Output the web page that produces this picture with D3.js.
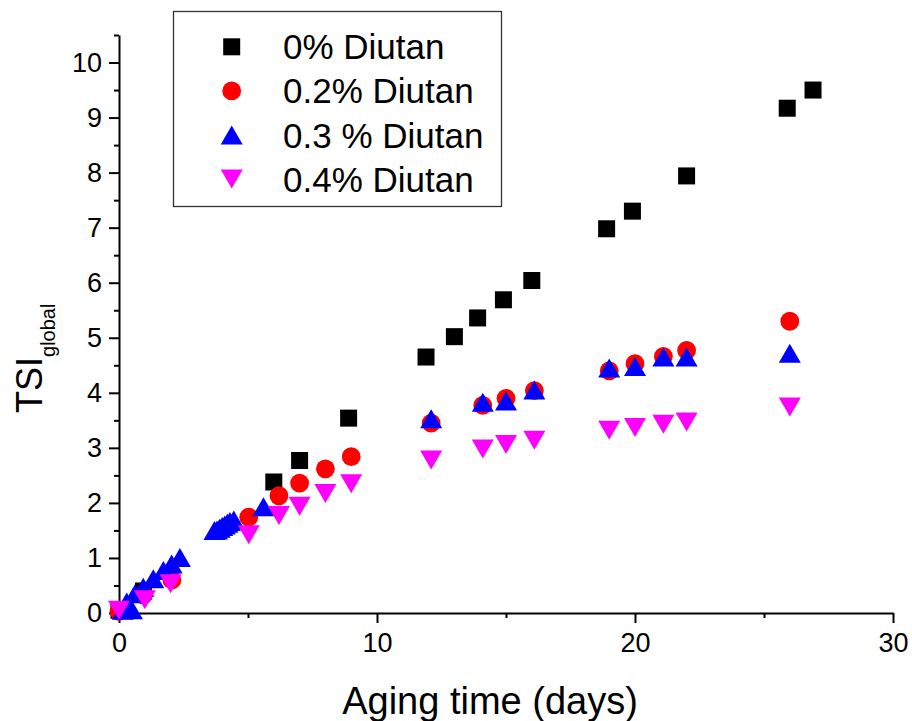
<!DOCTYPE html>
<html>
<head>
<meta charset="utf-8">
<script src="https://cdn.jsdelivr.net/npm/d3@7"></script>
<style>
  body { margin: 0; background: #fff; }
  svg { display: block; font-family: "Liberation Sans", Arial, sans-serif; }
</style>
</head>
<body>
<script>
// [aging time (days), TSI_global]
const diutan0 = [
  [0, 0.05], [0.95, 0.4], [6, 2.38], [7, 2.77], [8.9, 3.54], [11.9, 4.65], [13, 5.02],
  [13.9, 5.36], [14.9, 5.69], [16, 6.04], [18.9, 6.98], [19.9, 7.3], [22, 7.94],
  [25.9, 9.17], [26.9, 9.5]
];
const diutan02 = [
  [0, 0.03], [0.95, 0.33], [2.05, 0.6], [5.03, 1.74], [6.2, 2.13], [7, 2.36], [8, 2.62],
  [9, 2.84], [12.1, 3.45], [14.1, 3.77], [15, 3.9], [16.1, 4.04], [19, 4.4], [20, 4.53],
  [21.1, 4.66], [22, 4.77], [26, 5.3]
];
const diutan03 = [
  [0.15, 0.05], [0.5, 0.06], [0.3, 0.2], [0.62, 0.35], [0.94, 0.47], [1.33, 0.62],
  [1.72, 0.77], [2.04, 0.89], [2.36, 1.01],
  [3.7, 1.5], [3.8, 1.51], [3.9, 1.54], [4.0, 1.57], [4.1, 1.6], [4.2, 1.63], [4.3, 1.66],
  [4.45, 1.69], [5.6, 1.93], [12.1, 3.53], [14.1, 3.83], [15, 3.85], [16.1, 4.05],
  [19, 4.45], [20, 4.48], [21.1, 4.65], [22, 4.65], [26, 4.72]
];
const diutan04 = [
  [0, 0.05], [1.0, 0.24], [2.0, 0.53], [5.03, 1.42], [6.2, 1.77], [7, 1.94], [8, 2.17],
  [9, 2.35], [12.1, 2.78], [14.1, 2.98], [15, 3.06], [16.1, 3.14], [19, 3.32],
  [20, 3.37], [21.1, 3.43], [22, 3.47], [26, 3.74]
];
const seriesNames = ["0% Diutan", "0.2% Diutan", "0.3 % Diutan", "0.4% Diutan"];
const xMajor = [0, 10, 20, 30];
const xMinor = [5, 15, 25];
const yMajor = d3.range(0, 11, 1);
const yMinor = d3.range(0.5, 11, 1);

const width = 912, height = 721;
const margin = {top: 35, right: 19, bottom: 108, left: 119};

const x = d3.scaleLinear().domain([0, 30]).range([margin.left, width - margin.right]);
const y = d3.scaleLinear().domain([0, 10.5]).range([height - margin.bottom, margin.top]);

const svg = d3.select("body").append("svg")
    .attr("width", width)
    .attr("height", height);

// marker shapes
const sq = 17, tw = 22, th = 19, cr = 9.4;
function square(g, cx, cy, color) {
  g.append("rect").attr("x", cx - sq / 2).attr("y", cy - sq / 2)
    .attr("width", sq).attr("height", sq).attr("fill", color);
}
function circle(g, cx, cy, color) {
  g.append("circle").attr("cx", cx).attr("cy", cy).attr("r", cr).attr("fill", color);
}
function triUp(g, cx, cy, color) {
  g.append("path")
    .attr("d", `M${cx},${cy - th / 2}L${cx + tw / 2},${cy + th / 2}L${cx - tw / 2},${cy + th / 2}Z`)
    .attr("fill", color);
}
function triDown(g, cx, cy, color) {
  g.append("path")
    .attr("d", `M${cx},${cy + th / 2}L${cx + tw / 2},${cy - th / 2}L${cx - tw / 2},${cy - th / 2}Z`)
    .attr("fill", color);
}

const series = [
  {name: seriesNames[0], data: diutan0, color: "#000000", draw: square},
  {name: seriesNames[1], data: diutan02, color: "#ff0000", draw: circle},
  {name: seriesNames[2], data: diutan03, color: "#0000ff", draw: triUp},
  {name: seriesNames[3], data: diutan04, color: "#ff00ff", draw: triDown}
];

// axes
const xAxis = svg.append("g")
    .attr("transform", "translate(0," + y(0) + ")")
    .call(d3.axisBottom(x).tickValues(xMajor).tickSize(10).tickSizeOuter(0).tickPadding(10));
xAxis.append("g")
    .call(d3.axisBottom(x).tickValues(xMinor).tickSize(5).tickFormat(""))
    .select(".domain").remove();

const yAxis = svg.append("g")
    .attr("transform", "translate(" + x(0) + ",0)")
    .call(d3.axisLeft(y).tickValues(yMajor).tickSize(10).tickSizeOuter(0).tickPadding(7));
yAxis.append("g")
    .call(d3.axisLeft(y).tickValues(yMinor).tickSize(5).tickFormat(""))
    .select(".domain").remove();

svg.selectAll(".domain, .tick line")
    .attr("stroke", "#000")
    .attr("stroke-width", 2);
svg.selectAll(".tick text")
    .attr("fill", "#000")
    .style("font-size", "27px");

// points
series.forEach(s => {
  const g = svg.append("g");
  s.data.forEach(d => s.draw(g, x(d[0]), y(d[1]), s.color));
});

// axis titles
svg.append("text")
    .attr("x", 490)
    .attr("y", 714)
    .attr("text-anchor", "middle")
    .style("font-size", "38px")
    .text("Aging time (days)");

const yTitle = svg.append("text")
    .attr("transform", "translate(42,413) rotate(-90)")
    .style("font-size", "36px");
yTitle.append("tspan").text("TSI");
yTitle.append("tspan").attr("dy", 13).style("font-size", "20px").text("global");

// legend
const legend = svg.append("g");
legend.append("rect")
    .attr("x", 173.5).attr("y", 11.5)
    .attr("width", 328).attr("height", 195)
    .attr("fill", "#fff")
    .attr("stroke", "#333")
    .attr("stroke-width", 1.3);
series.forEach((s, i) => {
  const base = 59.3 + i * 44.1;
  s.draw(legend, 231.7, base - 12.5, s.color);
  legend.append("text")
      .attr("x", 283)
      .attr("y", base)
      .style("font-size", "35px")
      .text(s.name);
});
</script>
</body>
</html>
